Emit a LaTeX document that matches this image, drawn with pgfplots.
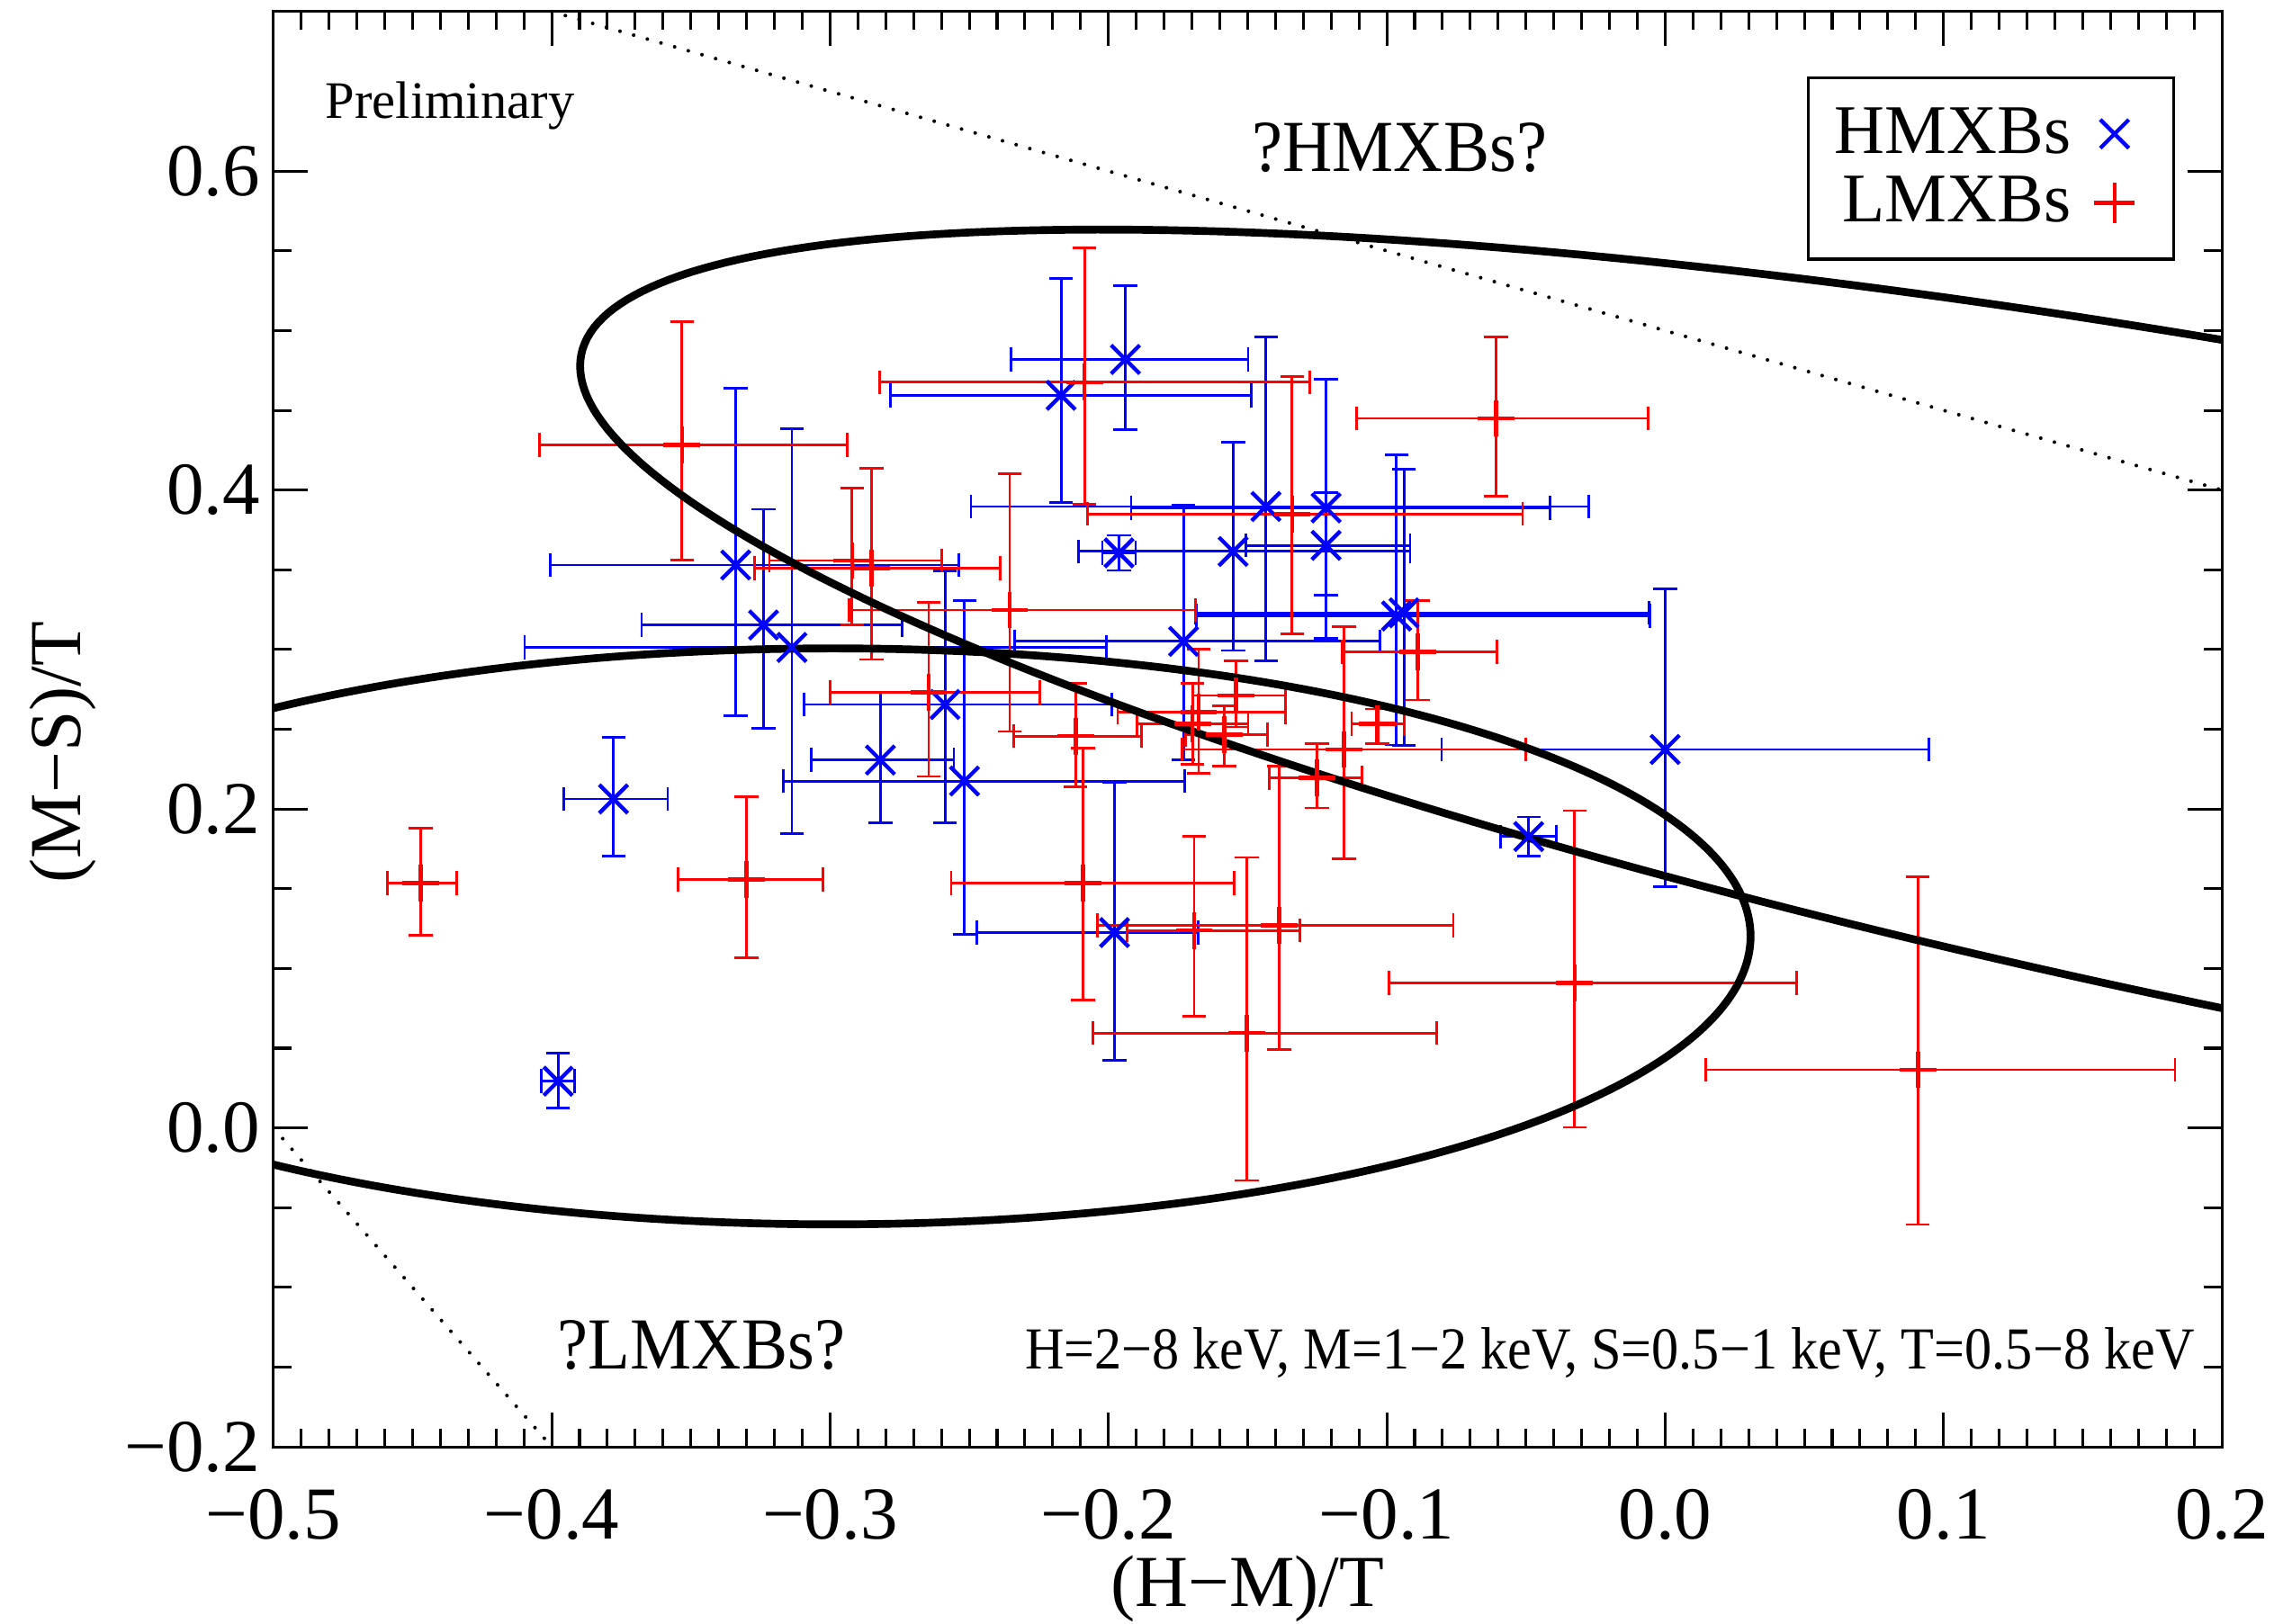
\documentclass[border=0pt]{standalone}
\usepackage{fontspec}
\setmainfont{Liberation Serif}
\usepackage{pgfplots}
\pgfplotsset{compat=1.18}
\usepackage{pgfplotstable}

% Hardness ratios with asymmetric 1-sigma errors (minus / plus)
\pgfplotstableread{
x        y       xm      xp      ym      yp
-0.1939  0.4819  0.0411  0.0441  0.0442  0.0462
-0.2170  0.4594  0.0613  0.0683  0.0674  0.0733
-0.3339  0.3530  0.0667  0.0801  0.0945  0.1110
-0.3239  0.3154  0.0438  0.0498  0.0649  0.0726
-0.3137  0.3013  0.0960  0.1131  0.1167  0.1373
-0.3778  0.2063  0.0178  0.0195  0.0358  0.0385
-0.3977  0.0293  0.0060  0.0060  0.0170  0.0176
-0.2819  0.2307  0.0248  0.0264  0.0395  0.0423
-0.2587  0.2655  0.0507  0.0598  0.0743  0.0838
-0.2517  0.2175  0.0652  0.0792  0.0960  0.1130
-0.1434  0.3897  0.1060  0.1160  0.0970  0.1063
-0.1218  0.3888  0.0700  0.0804  0.0819  0.0809
-0.1218  0.3653  0.0289  0.0302  0.0311  0.0329
-0.1552  0.3615  0.0555  0.0636  0.0621  0.0687
-0.1962  0.3606  0.0060  0.0060  0.0110  0.0110
-0.1730  0.3051  0.0606  0.0706  0.0744  0.0855
-0.0965  0.3210  0.0720  0.0910  0.0809  0.1010
-0.0938  0.3230  0.0750  0.0880  0.0830  0.0900
 0.0000  0.2373  0.0803  0.0947  0.0862  0.1007
-0.0490  0.1827  0.0100  0.0100  0.0122  0.0123
-0.1978  0.1225  0.0496  0.0300  0.0800  0.0940
}\hmxb

\pgfplotstableread{
x        y       xm      xp      ym      yp
-0.4470  0.1536  0.0121  0.0129  0.0330  0.0344
-0.3300  0.1559  0.0247  0.0275  0.0490  0.0520
-0.3532  0.4283  0.0511  0.0593  0.0721  0.0772
-0.0607  0.4449  0.0501  0.0545  0.0486  0.0511
 0.0908  0.0364  0.0762  0.0924  0.0970  0.1209
-0.0325  0.0910  0.0666  0.0797  0.0907  0.1080
-0.2091  0.1536  0.0474  0.0543  0.0734  0.0846
-0.1692  0.1238  0.0240  0.0379  0.0540  0.0589
-0.1503  0.0595  0.0553  0.0681  0.0925  0.1101
-0.1387  0.1270  0.0652  0.0626  0.0779  0.0999
-0.1034  0.2533  0.0092  0.0096  0.0122  0.0094
-0.1250  0.2195  0.0173  0.0161  0.0189  0.0216
-0.2921  0.3558  0.0297  0.0323  0.0404  0.0453
-0.2851  0.3511  0.0420  0.0463  0.0574  0.0624
-0.2646  0.2731  0.0354  0.0399  0.0527  0.0564
-0.2355  0.3248  0.0577  0.0668  0.0762  0.0856
-0.2118  0.2457  0.0221  0.0237  0.0319  0.0330
-0.0889  0.2985  0.0270  0.0285  0.0302  0.0320
-0.1153  0.2373  0.0582  0.0652  0.0687  0.0772
-0.1676  0.2608  0.0291  0.0313  0.0385  0.0395
-0.1541  0.2712  0.0157  0.0178  0.0198  0.0216
-0.1584  0.2467  0.0140  0.0156  0.0197  0.0179
-0.1698  0.2533  0.0200  0.0200  0.0254  0.0254
-0.2086  0.4676  0.0735  0.0809  0.0766  0.0844
-0.1340  0.3850  0.0736  0.0828  0.0752  0.0863
}\lmxb

\pgfplotsset{
  xyerr/.style={
    error bars/.cd,
      x dir=both, x explicit, y dir=both, y explicit,
      error bar style={line width=0.55pt, #1},
      error mark options={rotate=90, line width=0.55pt, mark size=2.6pt, #1},
  },
}

\begin{document}
\begin{tikzpicture}
\begin{axis}[
  scale only axis,
  width=425.07pt, height=313.14pt,
  xmin=-0.5, xmax=0.2, ymin=-0.2, ymax=0.7,
  xtick={-0.5,-0.4,-0.3,-0.2,-0.1,0,0.1,0.2},
  xticklabels={−0.5,−0.4,−0.3,−0.2,−0.1,0.0,0.1,0.2},
  ytick={-0.2,0,0.2,0.4,0.6},
  yticklabels={−0.2,0.0,0.2,0.4,0.6},
  minor x tick num=9, minor y tick num=3,
  tick align=inside,
  major tick length=7.5pt, minor tick length=4pt,
  axis line style={line width=0.6pt},
  every tick/.style={black, line width=0.6pt},
  tick label style={font=\fontsize{16.3}{16.3}\selectfont},
  xticklabel style={yshift=-5.8pt},
  yticklabel style={xshift=0.6pt},
  xlabel={(H−M)/T}, ylabel={(M−S)/T},
  label style={font=\fontsize{16}{16}\selectfont},
  xlabel style={at={(axis description cs:0.5,-0.111)}, anchor=base},
  ylabel style={at={(axis description cs:-0.099,0.484)}, anchor=base},
  legend plot pos=right,
  legend cell align=right,
  legend image code/.code={\draw[#1] plot coordinates {(7.7pt,0pt)}; \path (0pt,0pt) (16pt,0pt);},
  legend style={at={(rel axis cs:0.976,0.955)}, anchor=north east,
    draw=black, line width=0.7pt, fill=white,
    font=\fontsize{15.2}{15.2}\selectfont,
    inner xsep=4.2pt, inner ysep=5pt, row sep=0.6pt,
    nodes={inner xsep=1.5pt, inner ysep=1.5pt}},
]
\coordinate (SW) at (rel axis cs:0,0);
\coordinate (NE) at (rel axis cs:1,1);

% HMXBs
\addplot[blue, only marks, mark=x, mark size=4.4pt,
  mark options={line width=0.85pt}, forget plot, xyerr=blue]
  table[x=x, y=y, x error minus=xm, x error plus=xp,
        y error minus=ym, y error plus=yp] {\hmxb};

% LMXBs
\addplot[red, only marks, mark=+, mark size=4pt,
  mark options={line width=0.9pt}, forget plot, xyerr=red]
  table[x=x, y=y, x error minus=xm, x error plus=xp,
        y error minus=ym, y error plus=yp] {\lmxb};

% class boundary ellipses
\addplot[black, line width=1.7pt, domain=0:360, samples=361, forget plot]
  ({0.2719+0.6617*cos(x)}, {0.2611-0.2166*cos(x)+0.2108*sin(x)});
\addplot[black, line width=1.7pt, domain=0:360, samples=361, forget plot]
  ({-0.2989+0.3296*cos(x)}, {0.1201+0.1806*sin(x)});

% limits of the accessible region
\addplot[black, line width=0.8pt, line cap=round, dash pattern=on 0pt off 3.1pt, forget plot]
  coordinates {(-0.4,0.7) (0.2,0.4)};
\addplot[black, line width=0.8pt, line cap=round, dash pattern=on 0pt off 3.1pt, forget plot]
  coordinates {(-0.5,0.0) (-0.4,-0.2)};

\addlegendimage{mark=x, blue, mark size=4.4pt, mark options={line width=0.85pt}}
\addlegendentry{HMXBs}
\addlegendimage{mark=+, red, mark size=4.4pt, mark options={line width=0.85pt}}
\addlegendentry{LMXBs}

\node[anchor=base west, inner sep=0pt, font=\fontsize{11.5}{11.5}\selectfont] at (axis cs:-0.4816,0.633) {Preliminary};
\node[anchor=base, inner sep=0pt, font=\fontsize{16}{16}\selectfont, xscale=0.94] at (axis cs:-0.0954,0.5996) {?HMXBs?};
\node[anchor=base, inner sep=0pt, font=\fontsize{16}{16}\selectfont, xscale=0.94] at (axis cs:-0.3462,-0.1513) {?LMXBs?};
\node[anchor=base east, inner sep=0pt, font=\fontsize{13}{13}\selectfont, xscale=0.91] at (axis cs:0.1905,-0.1513)
  {H=2−8 keV, M=1−2 keV, S=0.5−1 keV, T=0.5−8 keV};
\end{axis}
\pgfresetboundingbox
\path ([shift={(-59.63pt,-38.58pt)}]SW) rectangle ([shift={(15.31pt,2.55pt)}]NE);
\end{tikzpicture}
\end{document}
